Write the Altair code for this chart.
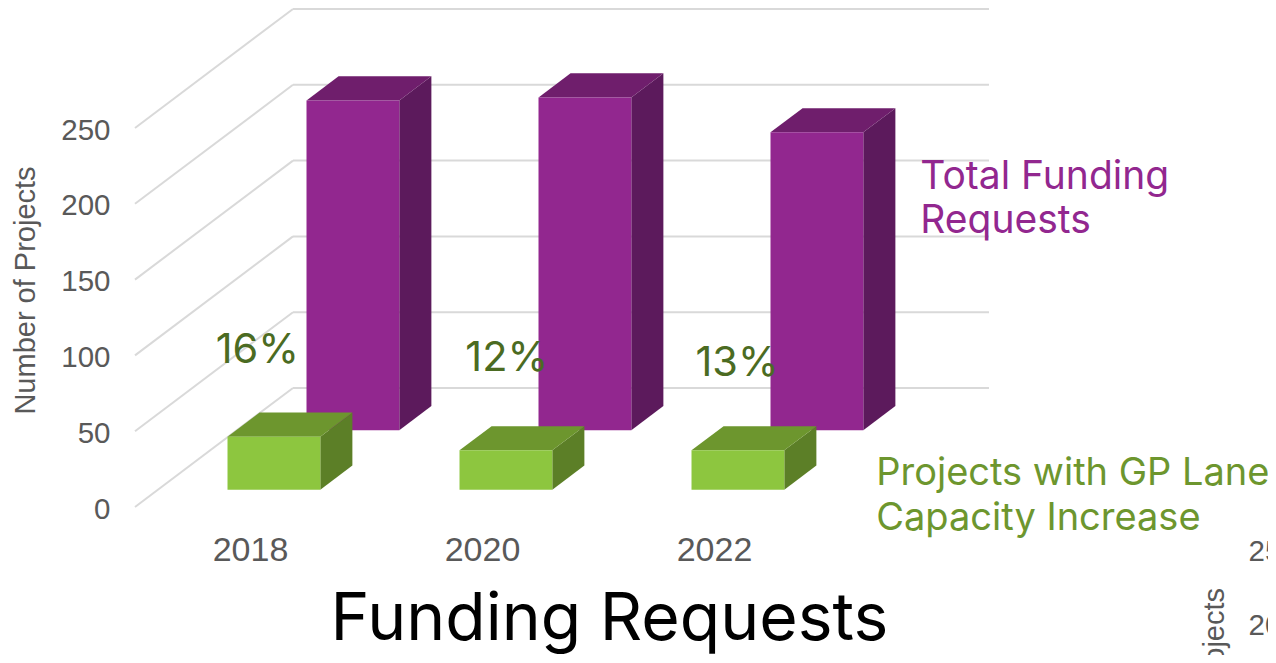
import altair as alt
import pandas as pd

YEARS = [2018, 2020, 2022]
TOTAL = [217.5, 219.5, 196.5]
GP = [35, 26, 26]
PCT = ["16%", "12%", "13%"]
Y_TICKS = [0, 50, 100, 150, 200, 250]

# projection of the pseudo-3D box: one depth unit moves right (years) and up (projects)
DX, DY = 0.681, 39.25
X0, X1 = 2017, 2023
BAR_W = 0.8
D_GAP = 0.29
D_BAR = 0.406

PURPLE = ("#92278f", "#6f1e6c", "#5c1a5c")
GREEN = ("#8dc63f", "#6d962e", "#5c7f27")
GRID = "#d9d9d9"
AXC = "#595959"
SANS = "Liberation Sans"
DISP = "Inter"

xs = alt.Scale(domain=[X0, X1], nice=False, zero=False)
ys = alt.Scale(domain=[0, 250], nice=False, zero=False)
XAX = alt.Axis(values=YEARS, format="d", title=None, grid=False, domain=False, ticks=False,
               labelFont=SANS, labelFontSize=34, labelColor=AXC, labelPadding=26, labelOffset=-1)
YAX = alt.Axis(values=Y_TICKS, title="Number of Projects", grid=False, domain=False, ticks=False,
               labelFont=SANS, labelFontSize=29.5, labelColor=AXC, labelPadding=25, labelOffset=2,
               titleFont=SANS, titleFontSize=29, titleColor=AXC, titleFontWeight="normal",
               titlePadding=20, titleY=162)
X = alt.X("x:Q", scale=xs, axis=XAX)
Y = alt.Y("y:Q", scale=ys, axis=YAX)
X2 = alt.X2("x2:Q")
Y2 = alt.Y2("y2:Q")

# grid
rows = []
for v in Y_TICKS:
    rows.append(dict(x=X0, x2=X0 + 2 * DX, y=v, y2=v + 2 * DY))
    rows.append(dict(x=X0 + 2 * DX, x2=X1 + 2 * DX, y=v + 2 * DY, y2=v + 2 * DY))
grid = alt.Chart(pd.DataFrame(rows)).mark_rule(color=GRID, strokeWidth=2).encode(x=X, x2=X2, y=Y, y2=Y2)


def bars(values, row, colors):
    d0 = row + D_GAP
    d1 = d0 + D_BAR
    fr, top, side = [], [], []
    for yr, v in zip(YEARS, values):
        l = yr - BAR_W / 2 + d0 * DX
        r = l + BAR_W
        b = d0 * DY
        t = b + v
        ox = (d1 - d0) * DX
        oy = (d1 - d0) * DY
        fr.append(dict(x=l, x2=r, y=b, y2=t))
        top.append(dict(g=yr, x=l, x2=r, y=t))
        top.append(dict(g=yr, x=l + ox, x2=r + ox, y=t + oy))
        side.append(dict(g=yr, x=r, y=b, y2=t))
        side.append(dict(g=yr, x=r + ox, y=b + oy, y2=t + oy))
    return [
        alt.Chart(pd.DataFrame(side)).mark_area(color=colors[2], orient="vertical").encode(
            x=X, y=Y, y2=Y2, detail="g:N"),
        alt.Chart(pd.DataFrame(top)).mark_area(color=colors[1], orient="horizontal").encode(
            y=Y, x=X, x2=X2, detail="g:N"),
        alt.Chart(pd.DataFrame(fr)).mark_rect(color=colors[0]).encode(x=X, x2=X2, y=Y, y2=Y2),
    ]


def text(items, **kw):
    return alt.Chart(pd.DataFrame(items)).mark_text(**kw).encode(x=X, y=Y, text="t:N")


pct = text([dict(x=2018.055, y=103, t=PCT[0]), dict(x=2020.205, y=97.4, t=PCT[1]), dict(x=2022.19, y=94.4, t=PCT[2])],
           font=DISP, fontSize=41.5, color="#4b6b22", align="center", baseline="middle")
leg1 = text([dict(x=2023.77, y=217.5, t="Total Funding"), dict(x=2023.77, y=188.5, t="Requests")],
            font=DISP, fontSize=39, color=PURPLE[0], align="left", baseline="middle")
leg2 = text([dict(x=2023.39, y=21.8, t="Projects with GP Lane"), dict(x=2023.39, y=-7.8, t="Capacity Increase")],
            font=DISP, fontSize=38, color=GREEN[1], align="left", baseline="middle")
title = text([dict(x=2021.09, y=-87.7, t="Funding Requests")],
             font=DISP, fontSize=66, color="#000000", align="center", baseline="alphabetic")
clip1 = text([dict(x=2026.6, y=-29.6, t="25"), dict(x=2026.6, y=-78.6, t="20")],
             font=SANS, fontSize=29.5, color=AXC, align="left", baseline="middle")
clip2 = text([dict(x=2026.31, y=-53.4, t="Number of Projects")],
             font=SANS, fontSize=29, color=AXC, align="right", baseline="middle", angle=270)

layers = [grid] + bars(TOTAL, 1, PURPLE) + bars(GP, 0, GREEN) + [pct, leg1, leg2, title, clip1, clip2]
chart = alt.layer(*layers).properties(
    width=696, height=379,
    autosize=alt.AutoSizeParams(type="none"),
    padding={"left": 127, "top": 120, "right": 437, "bottom": 148},
).configure_view(stroke=None)

chart.save("out.html", embed_options={"renderer": "svg", "actions": False})
